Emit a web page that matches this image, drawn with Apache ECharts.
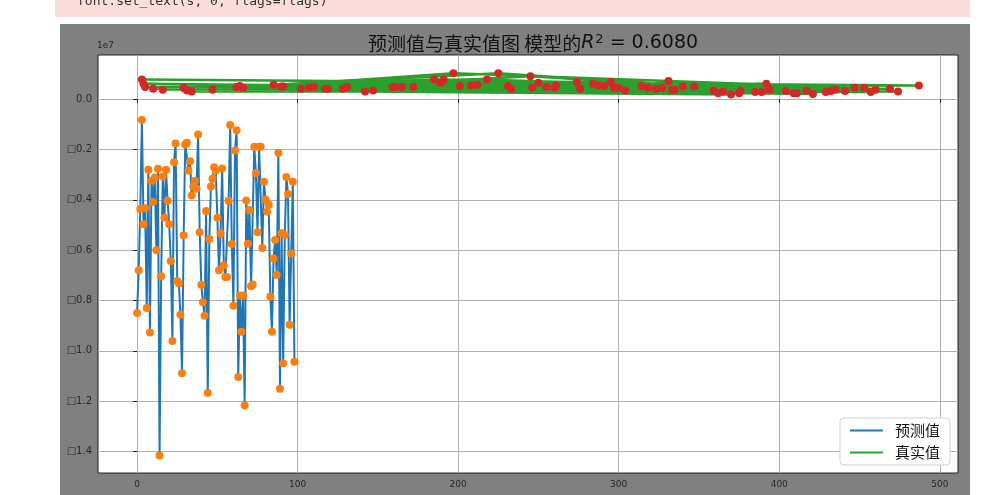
<!DOCTYPE html>
<html><head><meta charset="utf-8">
<script src="https://cdn.jsdelivr.net/npm/echarts@6/dist/echarts.min.js"></script>
<style>html,body{margin:0;padding:0;background:#fff}#c{width:983px;height:495px}</style>
</head><body><div id="c"></div>
<script>
// values are in units of 1e7
const predValues = [-0.85,-0.68,-0.436,-0.083,-0.497,-0.433,-0.83,-0.28,-0.927,-0.324,
 -0.409,-0.311,-0.60,-0.277,-1.416,-0.704,-0.307,-0.471,-0.28,-0.404,
 -0.497,-0.643,-0.961,-0.251,-0.176,-0.723,-0.732,-0.857,-1.089,-0.541,
 -0.18,-0.173,-0.283,-0.247,-0.383,-0.347,-0.324,-0.356,-0.14,-0.529,
 -0.737,-0.807,-0.861,-0.444,-1.167,-0.556,-0.347,-0.316,-0.271,-0.283,
 -0.471,-0.68,-0.533,-0.276,-0.66,-0.707,-0.707,-0.404,-0.103,-0.576,
 -0.821,-0.204,-0.124,-1.104,-0.78,-0.924,-0.78,-1.217,-0.403,-0.575,
 -0.44,-0.743,-0.736,-0.189,-0.293,-0.529,-0.189,-0.189,-0.591,-0.328,
 -0.399,-0.447,-0.42,-0.784,-0.924,-0.633,-0.56,-0.699,-0.213,-1.151,
 -0.533,-1.049,-0.54,-0.309,-0.377,-0.896,-0.613,-0.328,-1.043];
const predIndex = predValues.map((v, i) => i);

// true values: sample index (test-set order) and value
const trueIndex = [3,487,161, 4,474,165, 5,469,172, 10,460,185, 16,457,189, 29,453,191,
 31,447,197, 34,441,201, 47,435,208, 62,432,212, 64,429,218, 66,421,225,
 85,417,231, 90,411,233, 91,409,245, 102,404,246, 107,394,250, 110,392,255,
 117,389,260, 119,385,261, 128,376,274, 131,375,276, 142,370,284, 147,365,287,
 159,362,291, 359,295, 347,297, 340,300, 335,304, 333,314, 331,318, 323, 327];
const trueValues = [0.078,0.054,0.048, 0.061,0.030,0.048, 0.048,0.041,0.048, 0.041,0.037,0.078,
 0.037,0.028,0.065, 0.044,0.045,0.078, 0.034,0.045,0.103, 0.030,0.032,0.052,
 0.037,0.037,0.054, 0.048,0.032,0.057, 0.052,0.028,0.078, 0.045,0.021,0.103,
 0.057,0.034,0.052, 0.050,0.024,0.041, 0.050,0.024,0.091, 0.041,0.032,0.045,
 0.045,0.037,0.065, 0.048,0.061,0.048, 0.041,0.028,0.045, 0.041,0.028,0.054,
 0.041,0.032,0.068, 0.048,0.024,0.041, 0.030,0.019,0.061, 0.034,0.030,0.054,
 0.048,0.024,0.052, 0.034,0.068, 0.050,0.045, 0.050,0.045, 0.037,0.034,
 0.037,0.052, 0.072,0.045, 0.041, 0.045];

const yTicks = [0,-0.2,-0.4,-0.6,-0.8,-1.0,-1.2,-1.4];
const xTicks = [0,100,200,300,400,500];
const seriesNames = ['预测值','真实值'];

const predData = predIndex.map((x, i) => [x, predValues[i]]);
const trueData = trueIndex.map((x, i) => [x, trueValues[i]]);

const chart = echarts.init(document.getElementById('c'), null, {renderer:'canvas'});
const tickFont = 'DejaVu Sans, Noto Sans CJK SC, sans-serif';
chart.setOption({
  animation: false,
  backgroundColor: '#ffffff',
  graphic: [
    {type:'rect', z:-100, shape:{x:55,y:0,width:915,height:17}, style:{fill:'#fddcdc'}},
    {type:'text', z:-99, x:77, y:-5, style:{text:'font.set_text(s, 0, flags=flags)', fontFamily:'DejaVu Sans Mono, Liberation Mono, monospace', fontSize:13, fill:'#333'}},
    {type:'rect', z:-100, shape:{x:60,y:24,width:910,height:480}, style:{fill:'#808080'}},
    {type:'text', z:10, x:97, y:41, style:{text:'1e7', fontFamily:tickFont, fontSize:9, fill:'#262626'}}
  ],
  title: {
    text: '预测值与真实值图 模型的{i|R}{s|2}{m| = 0.6080}',
    left: 528, top: 28, textAlign: 'center',
    textStyle: {
      fontSize: 19, fontWeight: 'normal', color: '#111',
      fontFamily: 'Noto Sans CJK SC, sans-serif',
      rich: {
        i: {fontSize:19, fontStyle:'italic', fontFamily:'DejaVu Sans', color:'#111'},
        s: {fontSize:13, fontFamily:'DejaVu Sans', color:'#111', verticalAlign:'top', padding:[0,0,8,1]},
        m: {fontSize:19, fontFamily:'DejaVu Sans', color:'#111'}
      }
    }
  },
  legend: {
    data: seriesNames,
    orient: 'vertical',
    right: 33, top: 418,
    icon: 'rect',
    itemWidth: 33, itemHeight: 2, itemGap: 7,
    backgroundColor: '#ffffff', borderColor: '#d0d0d0', borderWidth: 1, borderRadius: 4,
    padding: [5, 10, 5, 10],
    textStyle: {fontSize: 15, color: '#111', fontFamily: 'Noto Sans CJK SC, sans-serif', padding:[0,0,0,7]}
  },
  grid: {
    left: 98, top: 55, right: 25, bottom: 22,
    show: true, backgroundColor: '#ffffff', borderColor: '#222', borderWidth: 1
  },
  xAxis: {
    type: 'value', min: -24.35, max: 511.35,
    axisLine: {show: false},
    axisTick: {show: true, length: 4, lineStyle: {color: '#222'}, customValues: xTicks},
    axisLabel: {customValues: xTicks, fontSize: 9, color: '#262626', fontFamily: tickFont, margin: 7},
    splitLine: {show: true, lineStyle: {color: '#b0b0b0', width: 1}}
  },
  yAxis: {
    type: 'value', min: -1.4855, max: 0.1755,
    axisLine: {show: false},
    axisTick: {show: true, length: 4, lineStyle: {color: '#222'}, customValues: yTicks},
    axisLabel: {customValues: yTicks, fontSize: 10, color: '#262626', fontFamily: tickFont, margin: 6,
      formatter: v => (Math.abs(v) < 1e-9 ? '0.0' : '□' + Math.abs(v).toFixed(1))},
    splitLine: {show: true, lineStyle: {color: '#b0b0b0', width: 1}}
  },
  series: [
    {name: seriesNames[0], type: 'line', data: predData, symbol: 'none', z: 2,
     lineStyle: {color: '#1f77b4', width: 2}, itemStyle: {color: '#1f77b4'}},
    {name: 'pred_pts', type: 'scatter', data: predData, symbolSize: 8, z: 3,
     itemStyle: {color: '#ff7f0e', opacity: 1}},
    {name: seriesNames[1], type: 'line', data: trueData, symbol: 'none', z: 4,
     lineStyle: {color: '#2ca02c', width: 2.5}, itemStyle: {color: '#2ca02c'}},
    {name: 'true_pts', type: 'scatter', data: trueData, symbolSize: 8, z: 5,
     itemStyle: {color: '#d62728', opacity: 1}}
  ]
});
</script></body></html>
